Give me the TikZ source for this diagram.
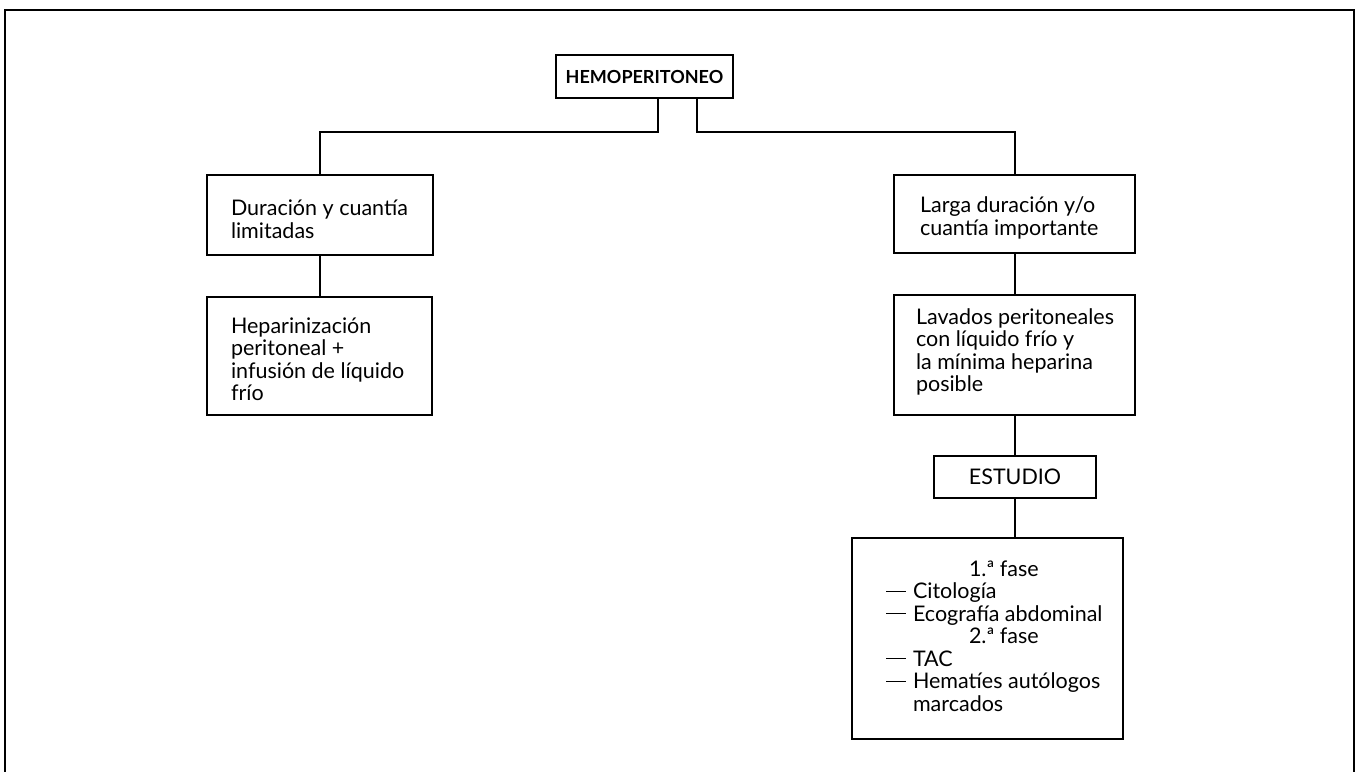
\documentclass[tikz,border=0pt]{standalone}
\usepackage{fontspec}
\setmainfont{Lato}
\newcommand{\dashitem}{\makebox[27pt][l]{\rule[0.32em]{20pt}{1.3pt}}}
\newcommand{\noitem}{\hspace*{27pt}}
\begin{document}
\begin{tikzpicture}[x=1pt,y=-1pt,
  line width=2pt,
  box/.style={draw,line width=2pt,anchor=north west,inner xsep=0pt,inner ysep=0pt},
  txt/.style={anchor=west,align=left,inner sep=0pt,font=\fontsize{21.5}{22.5}\selectfont},
  link/.style={draw,line width=2pt}
]
\useasboundingbox (0,0) rectangle (1359,771);
\fill[white] (0,0) rectangle (1359,771);
% outer frame
\draw[line width=2pt] (5,775) -- (5,10) -- (1354,10) -- (1354,775);

\newcommand{\mybox}[5]{% name, x1,y1,x2,y2
  \node[box,minimum width=#4-#2,minimum height=#5-#3] (#1) at (#2,#3) {};
}
\mybox{hemo}{555}{54}{732}{97}
\node[inner sep=0pt,font=\fontsize{18}{20}\bfseries\selectfont] (hemot) at (hemo.center) {HEMOPERITONEO};

\mybox{dur}{206}{174}{432}{254}
\node[txt] (durt) at (230,219) {Duración y cuantía\\limitadas};

\mybox{hep}{206}{296}{431}{414}
\node[txt] (hept) at (230,359) {Heparinización\\peritoneal +\\infusión de líquido\\frío};

\mybox{larga}{893}{174}{1134}{252}
\node[txt] (largat) at (919,218) {Larga duración y/o\\cuantía importante};

\mybox{lav}{893}{294}{1134}{414}
\node[txt] (lavt) at (915,352) {Lavados peritoneales\\con líquido frío y\\la mínima heparina\\posible};

\mybox{est}{933}{455}{1095}{497}
\node[inner sep=0pt,font=\fontsize{21.5}{22.5}\selectfont] (estt) at (est.center) {ESTUDIO};

\mybox{lista}{851}{537}{1122}{738}
\node[txt] (listat) at (885,636) {%
\noitem\hspace*{56pt}1.ª fase\\
\dashitem Citología\\
\dashitem Ecografía abdominal\\
\noitem\hspace*{56pt}2.ª fase\\
\dashitem TAC\\
\dashitem Hematíes autólogos\\
\noitem marcados};

% connectors
\coordinate (hl) at (658,132);
\coordinate (hr) at (697,132);
\draw[link] (hemo.south -| hl) -- (hl) -- (hl -| dur.north) -- (dur.north);
\draw[link] (hemo.south -| hr) -- (hr) -- (hr -| larga.north) -- (larga.north);
\draw[link] (dur.south) -- (dur.south |- hep.north);
\draw[link] (larga.south) -- (larga.south |- lav.north);
\draw[link] (lav.south -| est.north) -- (est.north);
\draw[link] (est.south) -- (est.south |- lista.north);
\end{tikzpicture}
\end{document}
